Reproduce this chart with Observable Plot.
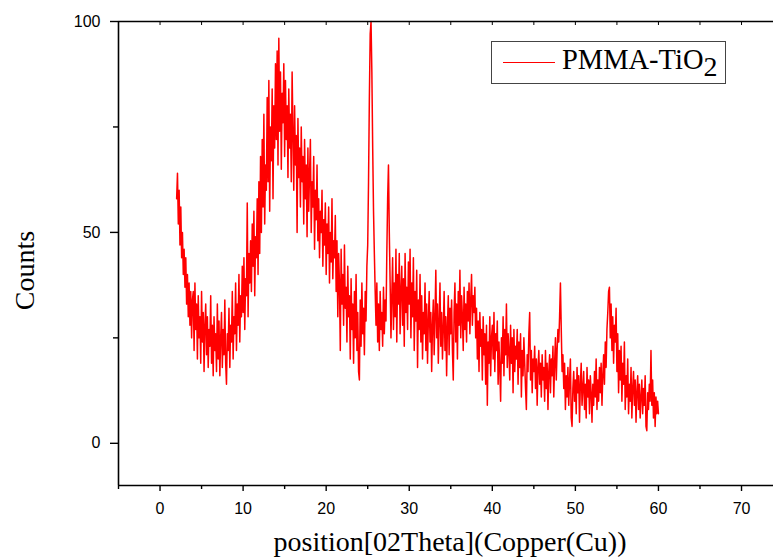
<!DOCTYPE html>
<html>
<head>
<meta charset="utf-8">
<script src="https://cdn.jsdelivr.net/npm/d3@7"></script>
<script src="https://cdn.jsdelivr.net/npm/@observablehq/plot@0.6"></script>
<style>
  html, body { margin: 0; padding: 0; background: #fff; }
  #wrap { position: relative; width: 773px; height: 558px; overflow: hidden; }
  #legend { position: absolute; left: 491px; top: 41px; width: 235px; height: 43px;
    border: 1px solid #444; box-sizing: border-box; background: #fff; }
  #legend .swatch { position: absolute; left: 11px; top: 20px; width: 52px; height: 0;
    border-top: 1px solid #ff0000; }
  #legend .lab { position: absolute; left: 70px; top: 1px; font-family: "Liberation Serif", serif;
    font-size: 28.5px; line-height: 34px; color: #000; white-space: nowrap; }
  #legend sub { font-size: 28px; vertical-align: -7px; line-height: 0; }
</style>
</head>
<body>
<div id="wrap"><div id="chart"></div>
<div id="legend"><div class="swatch"></div><div class="lab">PMMA-TiO<sub>2</sub></div></div>
</div>
<script>
// 2θ sampling of the pattern
const angleStart = 2.0;
const angleStep = 0.1;
// Counts, one row per degree (2.0 ... 60.0)
const counts = [
  58,64,52,60,47,56,44,50,40,46,
  37,44,33,40,30,38,28,36,25,34,
  36,22,38,27,33,20,35,25,30,19,
  36,24,31,17,28,33,21,30,18,27,
  23,35,19,28,16,30,22,26,17,33,
  20,29,16,25,31,18,27,21,34,19,
  14,26,22,32,18,28,24,36,20,30,
  26,38,22,33,28,40,24,35,30,42,
  31,44,27,39,35,57,30,45,38,48,
  36,52,42,55,35,49,44,58,40,62,
  45,68,50,72,56,78,52,66,60,82,
  62,86,55,75,67,84,58,80,70,90,
  72,93,66,96,74,88,65,83,76,90,
  68,86,72,80,63,84,70,78,62,88,
  74,60,80,66,73,50,77,63,70,56,
  75,62,68,52,72,58,66,49,70,55,
  64,72,50,62,56,68,46,60,53,66,
  48,58,44,55,50,60,42,53,47,57,
  40,52,45,56,38,50,43,58,39,48,
  44,54,36,48,30,45,38,22,46,33,
  40,28,47,32,37,24,42,30,35,20,
  39,27,33,19,36,25,40,22,31,17,
  15,34,23,38,26,32,21,36,29,42,
  47,62,82,97,100,88,70,55,45,36,
  28,38,24,33,22,36,27,31,23,37,
  26,34,29,45,58,66,50,38,25,35,
  44,27,38,30,46,24,40,33,45,26,
  36,42,28,39,23,45,31,37,27,43,
  33,46,25,38,30,44,22,36,29,41,
  18,34,27,40,24,35,20,31,26,38,
  22,33,19,29,36,24,31,17,28,34,
  21,30,41,25,33,19,29,38,23,31,
  20,27,36,22,30,16,28,35,21,32,
  26,34,22,15,31,38,24,33,20,36,
  28,41,25,35,30,22,37,27,33,24,
  36,29,38,26,34,40,28,35,31,37,
  25,32,20,29,17,31,23,27,15,30,
  21,26,14,28,9,24,19,30,16,25,
  28,20,31,17,26,22,29,14,24,18,
  10,25,19,30,16,27,21,33,18,26,
  22,15,28,19,25,12,27,17,23,20,
  27,14,24,18,26,11,22,16,25,19,
  13,8,21,17,26,31,15,22,12,20,
  17,23,13,20,9,18,22,14,19,11,
  21,15,18,10,22,13,19,8,17,21,
  12,20,16,23,11,19,25,15,22,27,
  24,30,38,27,17,21,13,19,8,16,
  11,18,9,15,20,6,4,13,17,10,
  15,7,18,12,16,5,14,19,9,13,
  17,8,14,6,18,11,15,7,16,12,
  5,14,9,17,11,20,8,15,10,18,
  12,19,9,16,21,14,24,18,27,31,
  36,37,25,33,22,30,19,28,24,32,
  17,26,12,22,15,23,10,19,14,24,
  8,16,11,20,7,14,10,18,6,13,
  17,9,15,5,12,16,8,14,6,11,
  15,7,13,9,16,4,3,12,8,14,
  10,22,9,15,6,12,4,11,7,10,
  7
];
const xMajorTicks = [0, 10, 20, 30, 40, 50, 60, 70];
const xMinorTicks = [-5, 5, 15, 25, 35, 45, 55, 65];
const xTopTicks = [-5, 0, 5, 10, 15, 20, 25, 30, 35, 40, 45, 50, 55, 60, 65, 70];
const yMajorTicks = [0, 50, 100];
const yMinorTicks = [25, 75];
const xTitle = "position[02Theta](Copper(Cu))";
const yTitle = "Counts";
const xDomain = [-5, 73.85];
const yDomain = [-10, 100];

const data = counts.map((c, i) => ({angle: Math.round((angleStart + i * angleStep) * 10) / 10, count: c}));

const chart = Plot.plot({
  width: 773,
  height: 558,
  marginLeft: 118,
  marginRight: 0,
  marginTop: 21,
  marginBottom: 73,
  x: {domain: xDomain},
  y: {domain: yDomain},
  style: {fontFamily: "'Liberation Sans', Arial, sans-serif", fontSize: "16px", color: "#000", background: "#fff"},
  marks: [
    Plot.line(data, {x: "angle", y: "count", stroke: "#ff0000", strokeWidth: 1.5}),
    Plot.ruleX([xDomain[0]], {stroke: "#000", strokeWidth: 1.6}),
    Plot.ruleY([yDomain[0]], {stroke: "#000", strokeWidth: 1.6}),
    Plot.ruleY([yDomain[1]], {stroke: "#000", strokeWidth: 1.6}),
    Plot.axisX({ticks: xMajorTicks, tickSize: 6, tickPadding: 11, label: null, fontSize: 16, strokeWidth: 1.4}),
    Plot.axisX({ticks: xMinorTicks, tickSize: 4, tickFormat: () => "", label: null, strokeWidth: 1.4}),
    Plot.axisX({anchor: "top", ticks: xTopTicks, tickSize: -3, tickFormat: () => "", label: null, strokeWidth: 1}),
    Plot.axisY({ticks: yMajorTicks, tickSize: 8, tickPadding: 10, label: null, fontSize: 16, strokeWidth: 1.4}),
    Plot.axisY({ticks: yMinorTicks, tickSize: 5, tickFormat: () => "", label: null, strokeWidth: 1.4}),
    Plot.text([yTitle], {frameAnchor: "left", textAnchor: "middle", rotate: -90, dx: -93, dy: 17, fontFamily: "'Liberation Serif', serif", fontSize: 28, fill: "#000"}),
    Plot.text([xTitle], {frameAnchor: "bottom", dx: 4, dy: 57, lineAnchor: "middle", fontFamily: "'Liberation Serif', serif", fontSize: 28, fill: "#000"})
  ]
});
document.getElementById("chart").appendChild(chart);
</script>
</body>
</html>
